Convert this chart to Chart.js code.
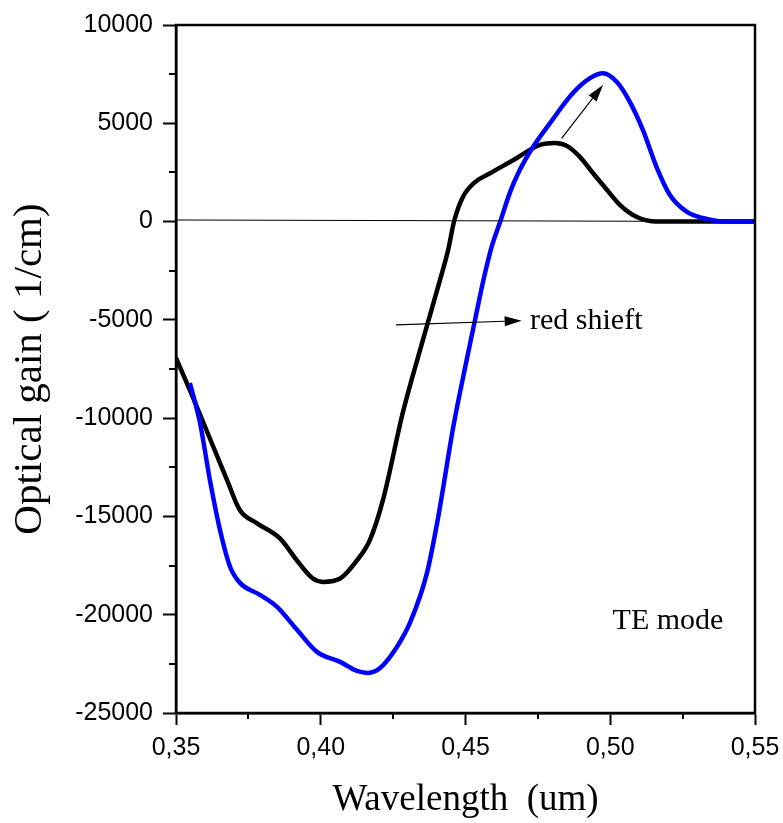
<!DOCTYPE html>
<html>
<head>
<meta charset="utf-8">
<title>Optical gain</title>
<script src="https://cdn.jsdelivr.net/npm/chart.js@4/dist/chart.umd.min.js"></script>
<style>
    html, body { margin: 0; padding: 0; background: #fff; }
    #wrap { width: 783px; height: 823px; }
</style>
</head>
<body>
<div id="wrap"><canvas id="gainChart" width="783" height="823"></canvas></div>
<script>
// Gain spectra (wavelength in um, gain in 1/cm)
const wavelengthBlack = [0.350, 0.356, 0.3676, 0.3721, 0.378, 0.3859, 0.3918, 0.3973, 0.4008, 0.4067,
    0.4125, 0.417, 0.4215, 0.4284, 0.4353, 0.4412, 0.444, 0.446, 0.4491, 0.4533, 0.4585, 0.4666,
    0.4757, 0.4809, 0.485, 0.4895, 0.494, 0.4989, 0.5034, 0.5092, 0.516, 0.53, 0.55];
const gainBlack = [-6940, -9000, -13140, -14690, -15350, -16120, -17240, -18160, -18330, -18160,
    -17240, -16190, -14160, -9690, -6020, -2970, -1450, -20, 1250, 2010, 2460, 3130,
    3900, 4000, 3850, 3290, 2470, 1610, 840, 230, 0, 0, 0];

const wavelengthBlue = [0.3548, 0.3583, 0.3617, 0.3652, 0.3687, 0.3721, 0.379, 0.3849, 0.3918, 0.3987,
    0.4067, 0.4125, 0.4163, 0.4205, 0.4263, 0.4308, 0.4367, 0.4405, 0.4458, 0.4504, 0.4533, 0.4562,
    0.4591, 0.462, 0.4654, 0.4682, 0.4733, 0.4792, 0.4871, 0.493, 0.4975, 0.5023, 0.5068, 0.5113, 0.516,
    0.5206, 0.5265, 0.532, 0.539, 0.55];
const gainBlue = [-8210, -10240, -13140, -15690, -17570, -18380, -18990, -19600, -20770, -21890,
    -22400, -22860, -22960, -22710, -21640, -20420, -17870, -15090, -10430, -7040, -5000, -2970,
    -1250, 0, 1500, 2460, 3790, 5010, 6540, 7300, 7550, 7100, 6080, 4650, 2770,
    1350, 490, 180, 0, 0];

// thin reference line across zero
const zeroLineX = [0.35, 0.55];
const zeroLineY = [80, 0];

const xTicks = [0.35, 0.40, 0.45, 0.50, 0.55];
const yTicks = [-25000, -20000, -15000, -10000, -5000, 0, 5000, 10000];

// annotation arrows: [x0, y0, x1, y1] in data units
const arrows = [
    [0.4832, 4237, 0.4975, 6948],
    [0.426, -5259, 0.4694, -5040]
];
const notes = [
    { text: 'red shieft', x: 0.4723, y: -5050 },
    { text: 'TE mode', x: 0.5008, y: -20350 }
];

function toPoints(xs, ys) {
    return xs.map((x, i) => ({ x: x, y: ys[i] }));
}

const decorations = {
    id: 'decorations',
    afterDraw(chart) {
        const ctx = chart.ctx;
        const area = chart.chartArea;
        const xs = chart.scales.x;
        const ys = chart.scales.y;
        ctx.save();

        // frame
        ctx.strokeStyle = '#000';
        ctx.lineWidth = 2.5;
        ctx.strokeRect(area.left, area.top, area.right - area.left, area.bottom - area.top);

        // minor ticks
        ctx.lineWidth = 2;
        ctx.beginPath();
        for (let v = -22500; v < 10000; v += 5000) {
            const py = Math.round(ys.getPixelForValue(v));
            ctx.moveTo(area.left - 7, py);
            ctx.lineTo(area.left, py);
        }
        for (let v = 0.375; v < 0.55; v += 0.05) {
            const px = Math.round(xs.getPixelForValue(v));
            ctx.moveTo(px, area.bottom);
            ctx.lineTo(px, area.bottom + 6);
        }
        ctx.stroke();

        // arrows
        ctx.lineWidth = 1.2;
        ctx.fillStyle = '#000';
        arrows.forEach(a => {
            const x0 = xs.getPixelForValue(a[0]), y0 = ys.getPixelForValue(a[1]);
            const x1 = xs.getPixelForValue(a[2]), y1 = ys.getPixelForValue(a[3]);
            const ang = Math.atan2(y1 - y0, x1 - x0);
            const len = 17, half = 5;
            const bx = x1 - len * Math.cos(ang), by = y1 - len * Math.sin(ang);
            ctx.beginPath();
            ctx.moveTo(x0, y0);
            ctx.lineTo(bx, by);
            ctx.stroke();
            ctx.beginPath();
            ctx.moveTo(x1, y1);
            ctx.lineTo(bx + half * Math.sin(ang), by - half * Math.cos(ang));
            ctx.lineTo(bx - half * Math.sin(ang), by + half * Math.cos(ang));
            ctx.closePath();
            ctx.fill();
        });

        // text notes
        ctx.font = '30px "Liberation Serif", "Times New Roman", serif';
        ctx.textAlign = 'left';
        ctx.textBaseline = 'middle';
        notes.forEach(n => {
            ctx.fillText(n.text, xs.getPixelForValue(n.x), ys.getPixelForValue(n.y));
        });
        ctx.restore();
    }
};

const tickFont = { family: '"Liberation Sans", Arial, sans-serif', size: 25 };
const titleFontFamily = '"Liberation Serif", "Times New Roman", serif';

new Chart(document.getElementById('gainChart'), {
    type: 'line',
    data: {
        datasets: [
            {
                data: toPoints(zeroLineX, zeroLineY),
                borderColor: '#000',
                borderWidth: 1,
                pointRadius: 0
            },
            {
                data: toPoints(wavelengthBlue, gainBlue),
                borderColor: '#0000ff',
                borderWidth: 4.5,
                pointRadius: 0,
                cubicInterpolationMode: 'monotone'
            },
            {
                data: toPoints(wavelengthBlack, gainBlack),
                borderColor: '#000',
                borderWidth: 4.5,
                pointRadius: 0,
                cubicInterpolationMode: 'monotone'
            }
        ]
    },
    options: {
        responsive: false,
        animation: false,
        layout: { padding: { top: 25, right: 28, left: 0, bottom: 0 } },
        plugins: {
            legend: { display: false },
            tooltip: { enabled: false }
        },
        scales: {
            x: {
                type: 'linear',
                min: 0.35,
                max: 0.55,
                afterBuildTicks: scale => { scale.ticks = xTicks.map(v => ({ value: v })); },
                afterFit: scale => {
                    scale.height = 110;
                    // let the last label hang into the right margin
                    scale.paddingLeft = 0;
                    scale.paddingRight = 0;
                },
                ticks: {
                    color: '#000',
                    font: tickFont,
                    padding: 8,
                    maxRotation: 0,
                    callback: v => v.toFixed(2).replace('.', ',')
                },
                grid: {
                    drawOnChartArea: false,
                    tickLength: 12,
                    tickColor: '#000',
                    tickWidth: 2
                },
                border: { color: '#000', width: 2.5 },
                title: {
                    display: true,
                    text: 'Wavelength  (um)',
                    color: '#000',
                    font: { family: titleFontFamily, size: 37 },
                    padding: { top: 0, bottom: 1 }
                }
            },
            y: {
                min: -25000,
                max: 10000,
                afterBuildTicks: scale => { scale.ticks = yTicks.map(v => ({ value: v })); },
                afterFit: scale => { scale.width = 176; },
                ticks: {
                    color: '#000',
                    font: tickFont,
                    padding: 10,
                    callback: v => String(v)
                },
                grid: {
                    drawOnChartArea: false,
                    tickLength: 13,
                    tickColor: '#000',
                    tickWidth: 2
                },
                border: { color: '#000', width: 2.5 },
                title: {
                    display: true,
                    text: 'Optical gain ( 1/cm)',
                    color: '#000',
                    font: { family: titleFontFamily, size: 41 },
                    padding: { top: 6, bottom: 0 }
                }
            }
        }
    },
    plugins: [decorations]
});
</script>
</body>
</html>
